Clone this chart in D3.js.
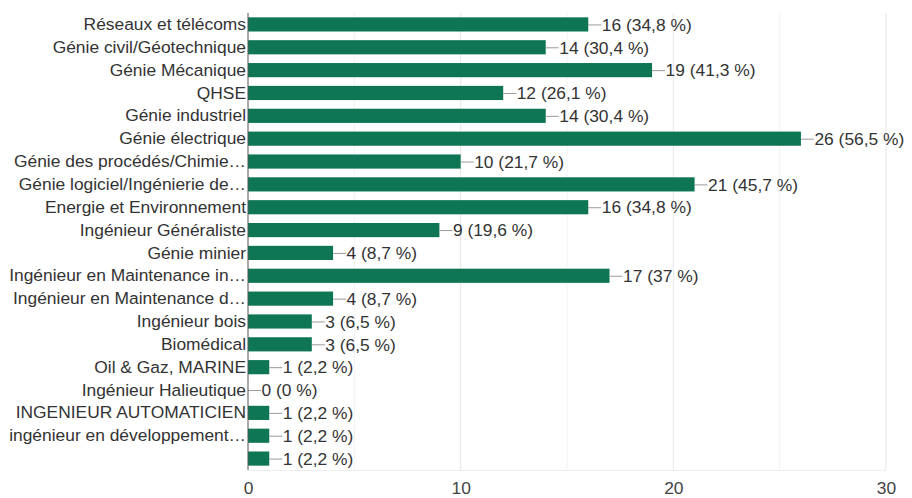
<!DOCTYPE html>
<html>
<head>
<meta charset="utf-8">
<script src="https://cdn.jsdelivr.net/npm/d3@7/dist/d3.min.js"></script>
<style>
  html, body { margin: 0; padding: 0; background: #fff; }
  svg { display: block; }
</style>
</head>
<body>
<svg id="chart" width="912" height="498"></svg>
<script>
// Answers and counts per engineering speciality (46 respondents)
const categories = [
  "Réseaux et télécoms",
  "Génie civil/Géotechnique",
  "Génie Mécanique",
  "QHSE",
  "Génie industriel",
  "Génie électrique",
  "Génie des procédés/Chimie…",
  "Génie logiciel/Ingénierie de…",
  "Energie et Environnement",
  "Ingénieur Généraliste",
  "Génie minier",
  "Ingénieur en Maintenance in…",
  "Ingénieur en Maintenance d…",
  "Ingénieur bois",
  "Biomédical",
  "Oil & Gaz, MARINE",
  "Ingénieur Halieutique",
  "INGENIEUR AUTOMATICIEN",
  "ingénieur en développement…",
  ""
];
const counts = [16, 14, 19, 12, 14, 26, 10, 21, 16, 9, 4, 17, 4, 3, 3, 1, 0, 1, 1, 1];
const percents = ["34,8", "30,4", "41,3", "26,1", "30,4", "56,5", "21,7", "45,7", "34,8", "19,6",
                  "8,7", "37", "8,7", "6,5", "6,5", "2,2", "0", "2,2", "2,2", "2,2"];
const xTicks = [0, 10, 20, 30];
const xGrid = [5, 10, 15, 20, 25, 30];

const svg = d3.select("#chart");
const margin = { left: 248, right: 26, top: 13, bottom: 28 };
const W = 912, H = 498;

const x = d3.scaleLinear().domain([0, 30]).range([margin.left, W - margin.right]);
const y = d3.scaleBand()
  .domain(d3.range(categories.length))
  .range([margin.top, H - margin.bottom])
  .paddingInner(0.38)
  .paddingOuter(0.19);

const font = "'Liberation Sans', Arial, sans-serif";
const fs = 17.4;

// vertical gridlines
svg.append("g").selectAll("line").data(xGrid).join("line")
  .attr("x1", d => x(d)).attr("x2", d => x(d))
  .attr("y1", margin.top).attr("y2", H - margin.bottom)
  .attr("stroke", d => d % 10 === 0 ? "#e6e6e6" : "#f2f2f2")
  .attr("stroke-width", 1);

// baseline under the plot
svg.append("line")
  .attr("x1", x(0)).attr("x2", x(30))
  .attr("y1", H - margin.bottom + 0.5).attr("y2", H - margin.bottom + 0.5)
  .attr("stroke", "#eeeeee");

// bars
svg.append("g").selectAll("rect").data(counts).join("rect")
  .attr("x", x(0))
  .attr("y", (d, i) => y(i))
  .attr("width", d => x(d) - x(0))
  .attr("height", y.bandwidth())
  .attr("fill", "#0e7654");

// leader lines and value labels
const lab = svg.append("g").selectAll("g").data(counts).join("g")
  .attr("transform", (d, i) => `translate(${x(d)},${y(i) + y.bandwidth() / 2})`);
lab.append("line")
  .attr("x1", 0).attr("x2", 13).attr("y1", 0.5).attr("y2", 0.5)
  .attr("stroke", "#9a9a9a").attr("stroke-width", 1);
lab.append("text")
  .attr("x", 13.5).attr("dy", "0.36em")
  .attr("font-family", font).attr("font-size", fs)
  .attr("fill", "#333")
  .text((d, i) => `${d} (${percents[i]} %)`);

// category axis
const yAxis = d3.axisLeft(y).tickSize(0).tickPadding(2).tickFormat(i => categories[i]);
const ya = svg.append("g").attr("transform", `translate(${x(0)},0)`).call(yAxis);
ya.select(".domain").attr("stroke", "#555").attr("d", `M0,${margin.top}V${H - margin.bottom}`);
ya.selectAll("text").attr("font-family", font).attr("font-size", fs).attr("fill", "#333");

// value axis
const xAxis = d3.axisBottom(x).tickValues(xTicks).tickSize(0).tickPadding(12).tickFormat(d3.format("d"));
const xa = svg.append("g").attr("transform", `translate(0,${H - margin.bottom})`).call(xAxis);
xa.select(".domain").remove();
xa.selectAll("text").attr("font-family", font).attr("font-size", fs).attr("fill", "#444");
</script>
</body>
</html>
